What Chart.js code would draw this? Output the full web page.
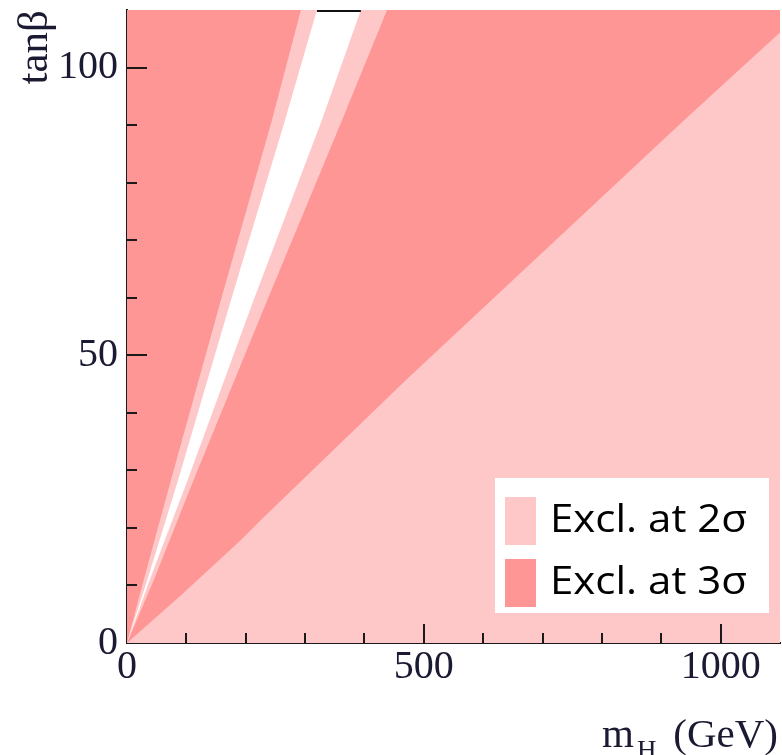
<!DOCTYPE html>
<html>
<head>
<title>tanβ vs m_H exclusion</title>
<script src="https://cdn.jsdelivr.net/npm/chart.js@4.4.0/dist/chart.umd.min.js"></script>
<style>
  body { margin: 0; background: #fff; }
  canvas { display: block; }
</style>
</head>
<body>
<canvas id="myChart" width="782" height="755"></canvas>
<script>
// axis ranges and labelled ticks
const massRange = [0, 1100];
const tanbRange = [0, 110];
const massLabels = [0, 500, 1000];
const tanbLabels = [0, 50, 100];
const massMinorStep = 100;
const tanbMinorStep = 10;

// lower edge of the 3 sigma region, below it only 2 sigma is excluded
const edgeMass = [0, 91, 192, 226, 470, 938, 1100];
const edgeTanb = [0, 8.3, 17.9, 21.4, 45.7, 90.8, 106.1];

// the narrow wedge: outer 2 sigma band and the open strip inside it
const wedgeTanb = [0, 10.9, 28.3, 59.5, 90.8, 110];
const bandLeftMass = [0, 28, 74, 158, 244, 293];
const bandRightMass = [0, 45, 112, 236, 362, 438];
const openLeftMass = [0, 34, 86, 175, 266, 320];
const openRightMass = [0, 38, 102, 213, 328, 394];

const legendLabels = ['Excl. at 2σ', 'Excl. at 3σ'];

const dark = '#ff9696';
const light = '#ffc8c8';
const ink = '#1a1a33';
const serif = "'Liberation Serif', 'Times New Roman', serif";

function pts(xs, ys) {
    return xs.map((x, i) => ({x: x, y: ys[i]}));
}
// closed outline: up the left edge, then back down the right edge
function wedge(left, right) {
    return pts(left, wedgeTanb).concat(pts(right, wedgeTanb).reverse());
}

function areaSet(label, data, color, fill, order) {
    return {
        label: label, data: data, backgroundColor: color, borderColor: color,
        borderWidth: 0, pointRadius: 0, showLine: true, fill: fill, order: order
    };
}

// inward tick marks, the legend box and the x axis title
const framePlugin = {
    id: 'frame',
    afterDatasetDraw(chart, args) {
        // frame line along the top shows only through the open strip
        if (args.index !== 0) return;
        const ctx = chart.ctx, a = chart.chartArea, xs = chart.scales.x;
        const n = wedgeTanb.length - 1;
        ctx.save();
        ctx.strokeStyle = '#111';
        ctx.lineWidth = 2;
        ctx.beginPath();
        ctx.moveTo(xs.getPixelForValue(openLeftMass[n]), a.top + 1);
        ctx.lineTo(xs.getPixelForValue(openRightMass[n]), a.top + 1);
        ctx.stroke();
        ctx.restore();
    },
    afterDatasetsDraw(chart) {
        const ctx = chart.ctx, a = chart.chartArea;
        const xs = chart.scales.x, ys = chart.scales.y;
        ctx.save();
        ctx.strokeStyle = '#1a1a1a';
        ctx.lineWidth = 2;
        for (let m = massRange[0] + massMinorStep; m < massRange[1]; m += massMinorStep) {
            const px = Math.round(xs.getPixelForValue(m));
            const len = massLabels.includes(m) ? 19 : 10;
            ctx.beginPath();
            ctx.moveTo(px, a.bottom);
            ctx.lineTo(px, a.bottom - len);
            ctx.stroke();
        }
        for (let t = tanbRange[0] + tanbMinorStep; t < tanbRange[1]; t += tanbMinorStep) {
            const py = Math.round(ys.getPixelForValue(t));
            const len = tanbLabels.includes(t) ? 20 : 10;
            ctx.beginPath();
            ctx.moveTo(a.left, py);
            ctx.lineTo(a.left + len, py);
            ctx.stroke();
        }

        // legend
        ctx.fillStyle = '#fff';
        ctx.fillRect(495, 478, 274, 135);
        const colors = [light, dark];
        ctx.font = "38px 'Open Sans', sans-serif";
        ctx.textBaseline = 'alphabetic';
        legendLabels.forEach((txt, i) => {
            const y0 = 497 + i * 62;
            ctx.fillStyle = colors[i];
            ctx.fillRect(505, y0, 31, 48);
            ctx.fillStyle = '#000';
            const k = 197 / ctx.measureText(txt).width;
            ctx.save();
            ctx.translate(550, y0 + 35);
            ctx.scale(k, 1);
            ctx.fillText(txt, 0, 0);
            ctx.restore();
        });

        // x axis title with subscript
        ctx.fillStyle = ink;
        ctx.textAlign = 'left';
        ctx.font = '41px ' + serif;
        ctx.fillText('m', 602, 747);
        const mW = ctx.measureText('m').width;
        ctx.font = '27px ' + serif;
        ctx.fillText('H', 602 + mW + 3, 759);
        ctx.font = '41px ' + serif;
        ctx.textAlign = 'right';
        ctx.fillText('(GeV)', 778, 747);
        ctx.restore();
    }
};

const chart = new Chart(document.getElementById('myChart'), {
    type: 'scatter',
    data: {
        datasets: [
            areaSet('open', wedge(openLeftMass, openRightMass), '#fff', 'shape', 1),
            areaSet('band', wedge(bandLeftMass, bandRightMass), light, 'shape', 2),
            areaSet('Excl. at 2σ', pts(edgeMass, edgeTanb), light, 'start', 3),
            areaSet('Excl. at 3σ', [{x: massRange[0], y: tanbRange[1]}, {x: massRange[1], y: tanbRange[1]}], dark, 'start', 4)
        ]
    },
    options: {
        responsive: false,
        animation: false,
        events: [],
        layout: {padding: {top: 10, right: 2, left: 0, bottom: 0}},
        plugins: {legend: {display: false}, tooltip: {enabled: false}},
        scales: {
            x: {
                type: 'linear', min: massRange[0], max: massRange[1],
                afterFit(s) { s.height = 112; s.paddingLeft = 0; s.paddingRight = 0; },
                afterBuildTicks(s) { s.ticks = massLabels.map(v => ({value: v})); },
                grid: {display: false, drawTicks: false},
                border: {display: true, color: '#1a1a1a', width: 2},
                ticks: {
                    padding: 0, color: ink, font: {family: serif, size: 40}, maxRotation: 0,
                    callback: v => String(v)
                }
            },
            y: {
                type: 'linear', min: tanbRange[0], max: tanbRange[1],
                afterFit(s) { s.width = 127; s.paddingTop = 0; s.paddingBottom = 0; },
                afterBuildTicks(s) { s.ticks = tanbLabels.map(v => ({value: v})); },
                grid: {display: false, drawTicks: false},
                border: {display: true, color: '#1a1a1a', width: 2},
                ticks: {padding: 9, color: ink, font: {family: serif, size: 40}, callback: v => String(v)},
                title: {
                    display: true, text: 'tanβ', align: 'end', color: ink,
                    font: {family: serif, size: 43}, padding: {top: 10, bottom: 0}
                }
            }
        }
    },
    plugins: [framePlugin]
});
</script>
</body>
</html>
